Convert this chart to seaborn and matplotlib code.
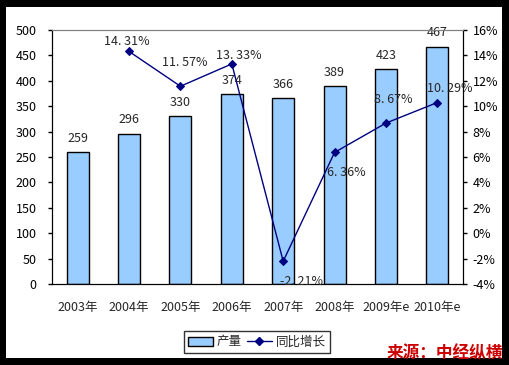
import numpy as np
import matplotlib
matplotlib.use("Agg")
import matplotlib.pyplot as plt
import seaborn as sns
from matplotlib.lines import Line2D
from matplotlib.patches import Patch, Rectangle

# data
years = ["2003年", "2004年", "2005年", "2006年", "2007年", "2008年", "2009年e", "2010年e"]
output = [259, 296, 330, 374, 366, 389, 423, 467]
growth_years = ["2004年", "2005年", "2006年", "2007年", "2008年", "2009年e", "2010年e"]
growth = [14.31, 11.57, 13.33, -2.21, 6.36, 8.67, 10.29]

sns.set_style("white")
plt.rcParams["font.family"] = ["Noto Sans CJK SC", "DejaVu Sans"]
plt.rcParams["font.size"] = 9

fig = plt.figure(figsize=(5.1, 3.65), dpi=100, facecolor="black")
# white panel inside the black frame
fig.patches.append(Rectangle((6 / 510, 7 / 365), 496 / 510, 351 / 365,
                             transform=fig.transFigure, facecolor="white",
                             edgecolor="none", zorder=-10))

ax = fig.add_axes([52 / 510, 81 / 365, 411 / 510, 254 / 365])
ax.set_facecolor("white")

bar_color = "#99CCFF"
line_color = "#000080"

sns.barplot(x=years, y=output, color=bar_color, edgecolor="black",
            linewidth=1, width=0.43, saturation=1, ax=ax)
ax.set_ylim(0, 500)
ax.set_yticks(range(0, 501, 50))
ax.set_xlim(-0.5, len(years) - 0.5)
ax.set_xlabel("")
ax.set_ylabel("")

for i, v in enumerate(output):
    ax.annotate(str(v), (i, v), xytext=(0, 14), textcoords="offset pixels",
                ha="center", va="center", fontsize=9)

ax2 = ax.twinx()
gx = np.array([years.index(y) for y in growth_years])
sns.lineplot(x=gx, y=growth, color=line_color, marker="D", markersize=4.5,
             markeredgecolor=line_color, linewidth=1, ax=ax2)
ax2.set_ylim(-4, 16)
ax2.set_yticks(range(-4, 17, 2))
ax2.set_yticklabels([f"{t}%" for t in range(-4, 17, 2)])
ax2.set_xlim(-0.5, len(years) - 0.5)

# growth label offsets in pixels
offsets = {
    "2004年": (-2, 10),
    "2005年": (4, 24),
    "2006年": (7, 8),
    "2007年": (18, -20),
    "2008年": (12, -20),
    "2009年e": (7, 24),
    "2010年e": (12, 14),
}
for xx, yv, yl in zip(gx, growth, growth_years):
    ax2.annotate(f"{yv:.2f}%".replace(".", ". "), (xx, yv), xytext=offsets[yl],
                 textcoords="offset pixels", ha="center", va="center", fontsize=9)

# axes styling
ax.tick_params(axis="y", direction="out", length=3, width=1, colors="black", pad=8)
ax.tick_params(axis="x", length=0, pad=12)
ax.set_xticks(np.arange(-0.5, len(years), 1), minor=True)
ax.tick_params(axis="x", which="minor", direction="in", length=4, width=1, color="black")
ax2.tick_params(axis="y", direction="out", length=3, width=1, colors="black", pad=4)
for a in (ax, ax2):
    a.spines["top"].set_color("#808080")
    a.spines["left"].set_color("black")
    a.spines["right"].set_color("black")
    a.spines["bottom"].set_color("black")
ax.grid(False)
ax2.grid(False)

handles = [Patch(facecolor=bar_color, edgecolor="black", label="产量"),
           Line2D([0], [0], color=line_color, marker="D", markersize=4.5, lw=1, label="同比增长")]
leg = fig.legend(handles=handles, loc="center", bbox_to_anchor=(257 / 510, 1 - 342 / 365),
                 ncol=2, frameon=True, fancybox=False, edgecolor="black",
                 fontsize=9, handlelength=2.0, columnspacing=0.4, handletextpad=0.3,
                 borderpad=0.35)
leg.get_frame().set_linewidth(1)

fig.text(503 / 510, 1 - 353 / 365, "来源：中经纵横", color="#CC0000", fontsize=12,
         fontweight="bold", style="italic", ha="right", va="center")

fig.savefig("out.png", dpi=100, facecolor=fig.get_facecolor())
